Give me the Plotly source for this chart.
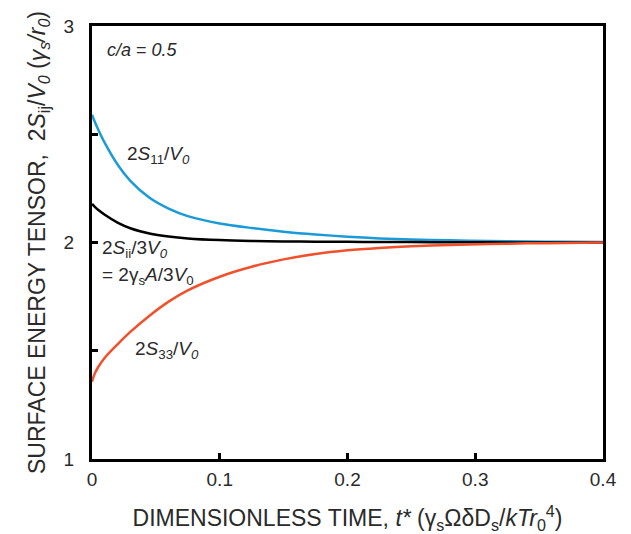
import plotly.graph_objects as go

t = [0, 0.002, 0.005, 0.01, 0.02, 0.03, 0.045, 0.06, 0.075, 0.1, 0.125, 0.15,
     0.175, 0.2, 0.225, 0.25, 0.28, 0.31, 0.34, 0.37, 0.4]
s11 = [2.590, 2.560, 2.520, 2.460, 2.360, 2.285, 2.207, 2.157, 2.122, 2.088, 2.067, 2.050,
       2.037, 2.027, 2.019, 2.014, 2.010, 2.007, 2.005, 2.003, 2.002]
sii = [2.178, 2.166, 2.150, 2.128, 2.092, 2.066, 2.042, 2.028, 2.019, 2.011, 2.007, 2.005,
       2.004, 2.003, 2.002, 2.002, 2.001, 2.001, 2.0, 2.0, 2.0]
s33 = [1.357, 1.392, 1.426, 1.468, 1.530, 1.587, 1.662, 1.727, 1.779, 1.842, 1.888, 1.922,
       1.947, 1.964, 1.975, 1.983, 1.989, 1.993, 1.996, 1.998, 2.0]

BLUE = "#1a9ad7"
RED = "#f0502a"
TXT = "#2a2a2a"
FONT = "Liberation Sans, Arial, sans-serif"

fig = go.Figure()
fig.add_trace(go.Scatter(x=t, y=s11, mode="lines",
                         line=dict(color=BLUE, width=2.5, shape="spline", smoothing=0.8)))
fig.add_trace(go.Scatter(x=t, y=sii, mode="lines",
                         line=dict(color="black", width=2.5, shape="spline", smoothing=0.8)))
fig.add_trace(go.Scatter(x=t, y=s33, mode="lines",
                         line=dict(color=RED, width=2.5, shape="spline", smoothing=0.8)))

ann = [
    (0.010, 2.889, "<i>c/a</i> = <i>0.5</i>", 18),
    (0.026, 2.404, "2<i>S</i><sub>11</sub>/<i>V<sub>0</sub></i>", 19),
    (0.0065, 1.97, "2<i>S</i><sub>ii</sub>/3<i>V<sub>0</sub></i>", 19),
    (0.0065, 1.845, "= 2γ<sub>s</sub><i>A</i>/3<i>V</i><sub>0</sub>", 19),
    (0.032, 1.503, "2<i>S</i><sub>33</sub>/<i>V<sub>0</sub></i>", 19),
]
for x, y, txt, sz in ann:
    fig.add_annotation(x=x, y=y, xref="x", yref="y", text=txt, showarrow=False,
                       xanchor="left", yanchor="middle",
                       font=dict(family=FONT, size=sz, color=TXT))

# page body has an 8px default margin, so the figure is drawn 8px right/down
fig.update_layout(
    width=623, height=526,
    margin=dict(l=84, r=28, t=18, b=75),
    plot_bgcolor="white", paper_bgcolor="white",
    showlegend=False,
    font=dict(family=FONT, size=18, color=TXT),
)
fig.update_xaxes(
    range=[0, 0.4], tickvals=[0, 0.1, 0.2, 0.3, 0.4], ticktext=["0", "0.1", "0.2", "0.3", "0.4"],
    ticks="inside", ticklen=6, tickwidth=3, tickcolor="black",
    showline=True, linewidth=3, linecolor="black", mirror=True,
    showgrid=False, zeroline=False, automargin=False,
    tickfont=dict(size=19, color=TXT), ticklabelstandoff=1,
    title=dict(text="DIMENSIONLESS TIME, <i>t*</i> (γ<sub>s</sub>ΩδD<sub>s</sub>/<i>kTr</i><sub>0</sub><sup>4</sup>)",
               font=dict(size=23, color=TXT), standoff=24),
)
fig.update_yaxes(
    range=[1, 3], tickvals=[1, 2, 3], ticktext=["1", "2", "3"],
    ticks="inside", ticklen=6, tickwidth=3, tickcolor="black",
    minor=dict(tickvals=[1.5, 2.5], ticks="inside", ticklen=6, tickwidth=3, tickcolor="black"),
    showline=True, linewidth=3, linecolor="black", mirror=True,
    showgrid=False, zeroline=False, automargin=False,
    tickfont=dict(size=19, color=TXT), ticklabelstandoff=11,
    title=dict(text="SURFACE ENERGY TENSOR,  2<i>S</i><sub>ij</sub>/<i>V<sub>0</sub></i> (<i>γ<sub>s</sub>/r<sub>0</sub></i>)",
               font=dict(size=23, color=TXT), standoff=12),
)

fig.write_html("out.html")
